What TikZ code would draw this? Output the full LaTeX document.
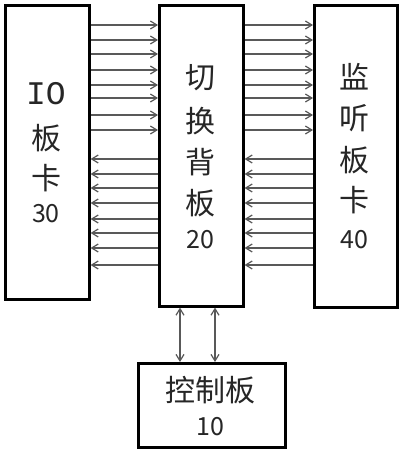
\documentclass[tikz,border=0pt]{standalone}
\usepackage{fontspec}
\setmainfont{Noto Sans CJK SC}
\newfontfamily\iofont{Liberation Mono}
\usetikzlibrary{arrows.meta}
\begin{document}
\begin{tikzpicture}[x=1pt,y=-1pt,
  box/.style={draw=black,line width=2.6pt,fill=white,inner sep=0pt,anchor=north west},
  lbl/.style={font=\fontsize{30}{30}\selectfont,inner sep=0pt,text=black!85},
  num/.style={font=\fontsize{25}{25}\selectfont,inner sep=0pt,text=black!85},
  sig/.style={draw=black!65,line width=1.4pt,-{Straight Barb[length=6.5pt,width=8pt,line width=1.2pt]}},
  bsig/.style={draw=black!65,line width=1.4pt,{Straight Barb[length=6.5pt,width=8pt,line width=1.2pt]}-{Straight Barb[length=6.5pt,width=8pt,line width=1.2pt]}}]
\useasboundingbox (0,0) rectangle (401,450);
\fill[white] (0,0) rectangle (401,450);
% boxes
\node[box,minimum width=84pt,minimum height=294pt] (io) at (4,4) {};
\node[box,minimum width=84pt,minimum height=301pt] (sw) at (158,4) {};
\node[box,minimum width=83pt,minimum height=302pt] (mon) at (313,4) {};
\node[box,minimum width=147pt,minimum height=84pt] (ctl) at (137,362) {};
% texts
\node[lbl,font=\iofont\fontsize{33}{33}\selectfont] (io1) at (46,94) {IO};
\node[lbl] (io2) at (46,138) {板};
\node[lbl] (io3) at (46,178) {卡};
\node[num] (io4) at (46,214) {30};
\node[lbl] (sw1) at (200,78) {切};
\node[lbl] (sw2) at (200,121) {换};
\node[lbl] (sw3) at (200,162) {背};
\node[lbl] (sw4) at (200,203) {板};
\node[num] (sw5) at (200,240) {20};
\node[lbl] (mo1) at (354,77) {监};
\node[lbl] (mo2) at (354,118) {听};
\node[lbl] (mo3) at (354,160) {板};
\node[lbl] (mo4) at (354,200) {卡};
\node[num] (mo5) at (354,240) {40};
\node[lbl] (ct1) at (210,390) {控制板};
\node[num] (ct2) at (210,427) {10};
% signal arrows
\foreach \y in {25,40,54,70,85,98,115,130}{
  \draw[sig] (io.east |- 0,\y) -- (sw.west |- 0,\y);
  \draw[sig] (sw.east |- 0,\y) -- (mon.west |- 0,\y);
}
\foreach \y in {159,174,188,203,219,233,248,265}{
  \draw[sig] (sw.west |- 0,\y) -- (io.east |- 0,\y);
  \draw[sig] (mon.west |- 0,\y) -- (sw.east |- 0,\y);
}
\draw[bsig] (sw.south -| 180,0) -- (ctl.north -| 180,0);
\draw[bsig] (sw.south -| 215,0) -- (ctl.north -| 215,0);
\end{tikzpicture}
\end{document}
